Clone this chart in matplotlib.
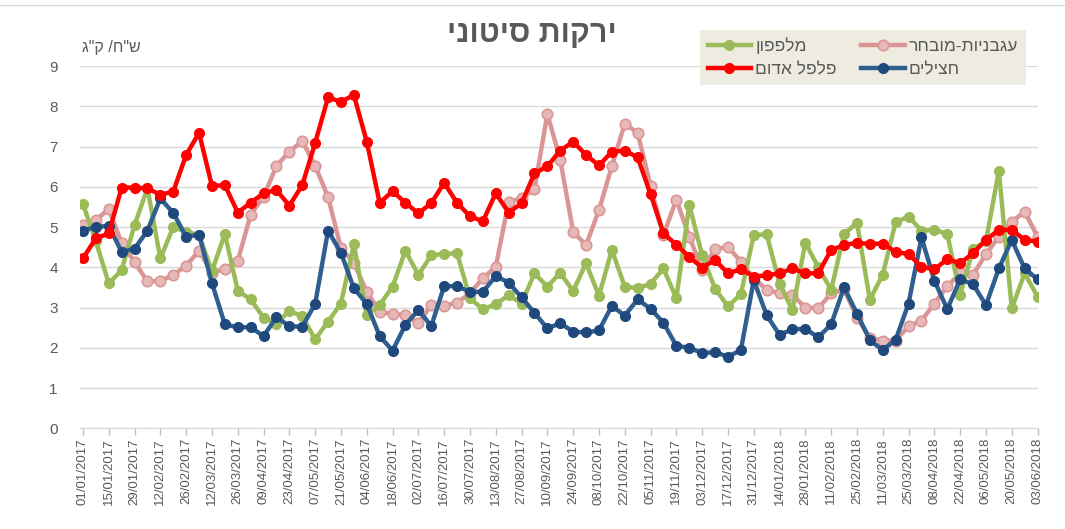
import numpy as np
import pandas as pd
import matplotlib
matplotlib.use("Agg")
import matplotlib.pyplot as plt

plt.rcParams['font.family'] = ['Liberation Sans', 'DejaVu Sans']

# weekly wholesale prices, NIS per kg
dates = pd.date_range("2017-01-01", periods=75, freq="7D")

tomato = [5.04, 5.18, 5.44, 4.60, 4.13, 3.65, 3.66, 3.81, 4.04, 4.41,
          3.87, 3.95, 4.16, 5.31, 5.75, 6.52, 6.87, 7.14, 6.52, 5.75,
          4.47, 4.11, 3.39, 2.90, 2.84, 2.81, 2.62, 3.06, 3.05, 3.12,
          3.35, 3.73, 4.01, 5.63, 5.71, 5.94, 7.81, 6.67, 4.88, 4.55,
          5.42, 6.51, 7.57, 7.34, 6.02, 4.80, 5.68, 4.76, 3.94, 4.45,
          4.51, 4.14, 3.73, 3.44, 3.35, 3.31, 3.00, 2.98, 3.35, 3.45,
          2.75, 2.25, 2.18, 2.18, 2.54, 2.67, 3.10, 3.53, 3.85, 3.81,
          4.33, 4.76, 5.13, 5.38, 4.76]

cucumber = [5.57, 4.65, 3.60, 3.93, 5.05, 5.96, 4.22, 5.00, 4.88, 4.80,
            3.90, 4.83, 3.42, 3.20, 2.75, 2.60, 2.92, 2.78, 2.21, 2.65,
            3.10, 4.57, 2.81, 3.06, 3.52, 4.41, 3.81, 4.30, 4.33, 4.35,
            3.23, 2.96, 3.08, 3.31, 3.10, 3.85, 3.52, 3.86, 3.41, 4.10,
            3.29, 4.43, 3.52, 3.48, 3.59, 3.97, 3.23, 5.55, 4.30, 3.47,
            3.03, 3.33, 4.80, 4.82, 3.59, 2.93, 4.61, 4.00, 3.44, 4.82,
            5.11, 3.19, 3.82, 5.12, 5.26, 4.91, 4.93, 4.83, 3.31, 4.45,
            4.65, 6.40, 2.98, 3.85, 3.27]

eggplant = [4.91, 5.00, 5.03, 4.38, 4.46, 4.91, 5.71, 5.35, 4.76, 4.81,
            3.61, 2.58, 2.51, 2.51, 2.29, 2.76, 2.54, 2.52, 3.09, 4.91,
            4.36, 3.48, 3.09, 2.29, 1.93, 2.57, 2.94, 2.54, 3.53, 3.53,
            3.39, 3.39, 3.78, 3.62, 3.25, 2.87, 2.48, 2.61, 2.40, 2.38,
            2.43, 3.04, 2.80, 3.20, 2.97, 2.62, 2.05, 2.00, 1.87, 1.89,
            1.78, 1.94, 3.68, 2.81, 2.32, 2.46, 2.47, 2.26, 2.58, 3.50,
            2.85, 2.19, 1.94, 2.20, 3.10, 4.74, 3.67, 2.96, 3.70, 3.58,
            3.06, 3.97, 4.68, 3.97, 3.70]

red_pepper = [4.22, 4.72, 4.84, 5.98, 5.98, 5.96, 5.80, 5.88, 6.79, 7.34,
              6.02, 6.04, 5.36, 5.60, 5.84, 5.92, 5.53, 6.04, 7.09, 8.22,
              8.11, 8.28, 7.12, 5.60, 5.89, 5.60, 5.34, 5.59, 6.10, 5.60,
              5.27, 5.14, 5.84, 5.36, 5.59, 6.33, 6.51, 6.90, 7.12, 6.79,
              6.53, 6.87, 6.90, 6.73, 5.82, 4.84, 4.56, 4.26, 3.99, 4.18,
              3.85, 3.95, 3.77, 3.80, 3.85, 3.97, 3.85, 3.85, 4.43, 4.55,
              4.61, 4.58, 4.59, 4.38, 4.33, 4.01, 3.95, 4.20, 4.10, 4.35,
              4.68, 4.93, 4.93, 4.68, 4.64]


def rtl(s):
    # matplotlib has no bidi support, so flip Hebrew text by hand
    return s[::-1]


x = np.arange(len(dates))
grey = "#595959"

fig = plt.figure(figsize=(10.65, 5.29), dpi=100)
ax = fig.add_axes([0.0751, 0.1904, 0.8995, 0.6848])

ax.plot(x, tomato, color="#D99694", lw=3.2, marker="o", ms=7.5,
        mfc="#E6B9B8", mec="#D99694", mew=1.2, zorder=2, label=rtl("עגבניות-מובחר"))
ax.plot(x, cucumber, color="#9BBB59", lw=3.2, marker="o", ms=7,
        mfc="#9BBB59", mec="#9BBB59", zorder=3, label=rtl("מלפפון"))
ax.plot(x, eggplant, color="#2F5F8F", lw=3.2, marker="o", ms=7,
        mfc="#1F497D", mec="#1F497D", zorder=4, label=rtl("חצילים"))
ax.plot(x, red_pepper, color="#FF0000", lw=3.2, marker="o", ms=7,
        mfc="#FF0000", mec="#FF0000", zorder=5, label=rtl("פלפל אדום"))

ax.set_xlim(-0.23, 74.03)
ax.set_ylim(0, 9)
ax.set_yticks(range(10))
ax.grid(axis="y", color="#D9D9D9", lw=1)
ax.set_axisbelow(True)

ax.set_xticks(x[::2])
ax.set_xticklabels(dates[::2].strftime("%d/%m/%Y"), rotation=90)
ax.tick_params(axis="x", colors=grey, labelsize=9.5, length=5, width=1, pad=2)
ax.tick_params(axis="x", color="#BFBFBF")
ax.tick_params(axis="y", colors=grey, labelsize=11, length=0, pad=16)

for side in ["top", "right", "left"]:
    ax.spines[side].set_visible(False)
ax.spines["bottom"].set_color("#D9D9D9")

fig.text(0.499, 0.935, rtl("ירקות סיטוני"), ha="center", va="center",
         fontsize=22, fontweight="bold", color=grey)
fig.text(0.077, 0.911, rtl('ש"ח/ ק"ג'), ha="left", va="center",
         fontsize=11.5, color=grey)

handles, labels = ax.get_legend_handles_labels()
order = [1, 3, 0, 2]
leg = fig.legend([handles[i] for i in order], [labels[i] for i in order],
                 loc="upper left", bbox_to_anchor=(0.649, 0.96), ncol=2,
                 fontsize=12.5, frameon=True, fancybox=False, handlelength=2.5,
                 columnspacing=1.4, handletextpad=0.25, labelspacing=0.45,
                 borderpad=0.45, labelcolor=grey)
leg.get_frame().set_facecolor("#EEECE1")
leg.get_frame().set_edgecolor("none")
leg.get_frame().set_alpha(1)

fig.add_artist(plt.Line2D([0, 1], [0.99, 0.99], color="#D9D9D9", lw=1,
                          transform=fig.transFigure))

fig.savefig("out.png", dpi=100)
